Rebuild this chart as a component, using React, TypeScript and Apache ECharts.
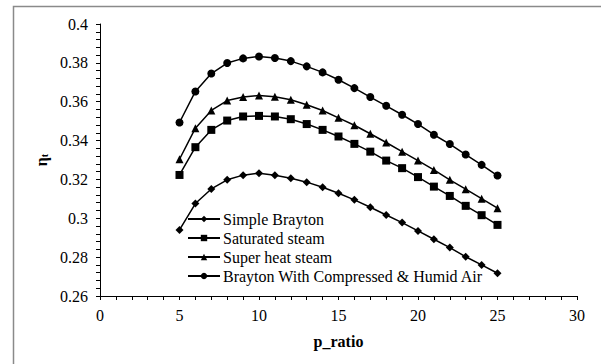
import React, { useEffect, useRef } from "react";
import * as echarts from "echarts";

const xValues = [5, 6, 7, 8, 9, 10, 11, 12, 13, 14, 15, 16, 17, 18, 19, 20, 21, 22, 23, 24, 25];
const simpleBrayton = [0.294, 0.3076, 0.3151, 0.3198, 0.3222, 0.3232, 0.3222, 0.3206, 0.3186, 0.316, 0.3129, 0.3095, 0.3057, 0.3017, 0.2978, 0.2935, 0.2892, 0.2849, 0.2802, 0.276, 0.2717];
const saturatedSteam = [0.3223, 0.3366, 0.3455, 0.3503, 0.3524, 0.3527, 0.3524, 0.351, 0.3485, 0.3455, 0.3421, 0.3383, 0.3343, 0.3297, 0.3258, 0.3212, 0.3163, 0.3115, 0.3064, 0.3016, 0.2966];
const superHeatSteam = [0.3304, 0.3464, 0.3555, 0.3606, 0.3624, 0.3632, 0.3625, 0.361, 0.3584, 0.3555, 0.3517, 0.3479, 0.3435, 0.339, 0.3343, 0.3297, 0.3249, 0.3198, 0.315, 0.3101, 0.3052];
const humidAir = [0.3493, 0.3653, 0.3745, 0.3799, 0.3823, 0.3833, 0.3825, 0.3809, 0.3782, 0.3751, 0.3713, 0.367, 0.3624, 0.3579, 0.3533, 0.3485, 0.343, 0.3382, 0.3328, 0.3275, 0.322];

const seriesNames = [
  "Simple Brayton",
  "Saturated steam",
  "Super heat steam",
  "Brayton With Compressed & Humid Air",
];

const FONT = "Liberation Serif";

export default function App() {
  const ref = useRef<HTMLDivElement>(null);
  useEffect(() => {
    if (!ref.current) return;
    const chart = echarts.init(ref.current, undefined, { renderer: "svg" });
    const mk = (name: string, ys: number[], symbol: string, size: number) => ({
      name,
      type: "line",
      data: xValues.map((x, i) => [x, ys[i]]),
      symbol,
      symbolSize: size,
      showSymbol: true,
      lineStyle: { color: "#000", width: 1.5 },
      itemStyle: { color: "#000" },
    });
    chart.setOption({
      animation: false,
      backgroundColor: "#fff",
      textStyle: { fontFamily: FONT },
      graphic: [
        {
          type: "rect",
          shape: { x: 13.5, y: 6.5, width: 620, height: 400 },
          style: { fill: "none", stroke: "#8a8a8a", lineWidth: 1.5 },
          silent: true,
        },
      ],
      grid: { left: 100, top: 24, right: 24, bottom: 68 },
      legend: {
        orient: "vertical",
        left: 187,
        top: 211,
        padding: 0,
        itemWidth: 32,
        itemHeight: 8,
        itemGap: 3,
        data: seriesNames,
        textStyle: { fontFamily: FONT, fontSize: 16, color: "#000", padding: [0, 0, 0, -2] },
      },
      xAxis: {
        type: "value",
        min: 0,
        max: 30,
        interval: 5,
        name: "p_ratio",
        nameLocation: "middle",
        nameGap: 37,
        nameTextStyle: { fontFamily: FONT, fontSize: 16, fontWeight: "bold", color: "#000" },
        axisLine: { lineStyle: { color: "#000", width: 1 } },
        axisTick: { show: true, length: 4, inside: false, lineStyle: { color: "#000" } },
        minorTick: { show: true, splitNumber: 5, length: 4, lineStyle: { color: "#000" } },
        axisLabel: { fontFamily: FONT, fontSize: 16, color: "#000", margin: 11 },
        splitLine: { show: false },
      },
      yAxis: {
        type: "value",
        min: 0.26,
        max: 0.4,
        interval: 0.02,
        name: "{e|η}{s|t}",
        nameLocation: "middle",
        nameGap: 50,
        nameRotate: 90,
        nameTextStyle: {
          fontFamily: FONT,
          color: "#000",
          rich: {
            e: { fontFamily: FONT, fontSize: 16, fontWeight: "bold", color: "#000" },
            s: { fontFamily: FONT, fontSize: 10, fontWeight: "bold", color: "#000", verticalAlign: "bottom", padding: [6, 0, 0, 0] },
          },
        },
        axisLine: { show: true, lineStyle: { color: "#000", width: 1 } },
        axisTick: { show: true, length: 4, inside: false, lineStyle: { color: "#000" } },
        minorTick: { show: true, splitNumber: 5, length: 4, lineStyle: { color: "#000" } },
        axisLabel: { fontFamily: FONT, fontSize: 16, color: "#000", margin: 12 },
        splitLine: { show: false },
      },
      series: [
        mk(seriesNames[0], simpleBrayton, "diamond", 8),
        mk(seriesNames[1], saturatedSteam, "rect", 8),
        mk(seriesNames[2], superHeatSteam, "triangle", 8),
        mk(seriesNames[3], humidAir, "circle", 8),
      ],
    });
    return () => chart.dispose();
  }, []);
  return (
    <div
      ref={ref}
      style={{ position: "absolute", left: 0, top: 0, width: 601, height: 364 }}
    />
  );
}
